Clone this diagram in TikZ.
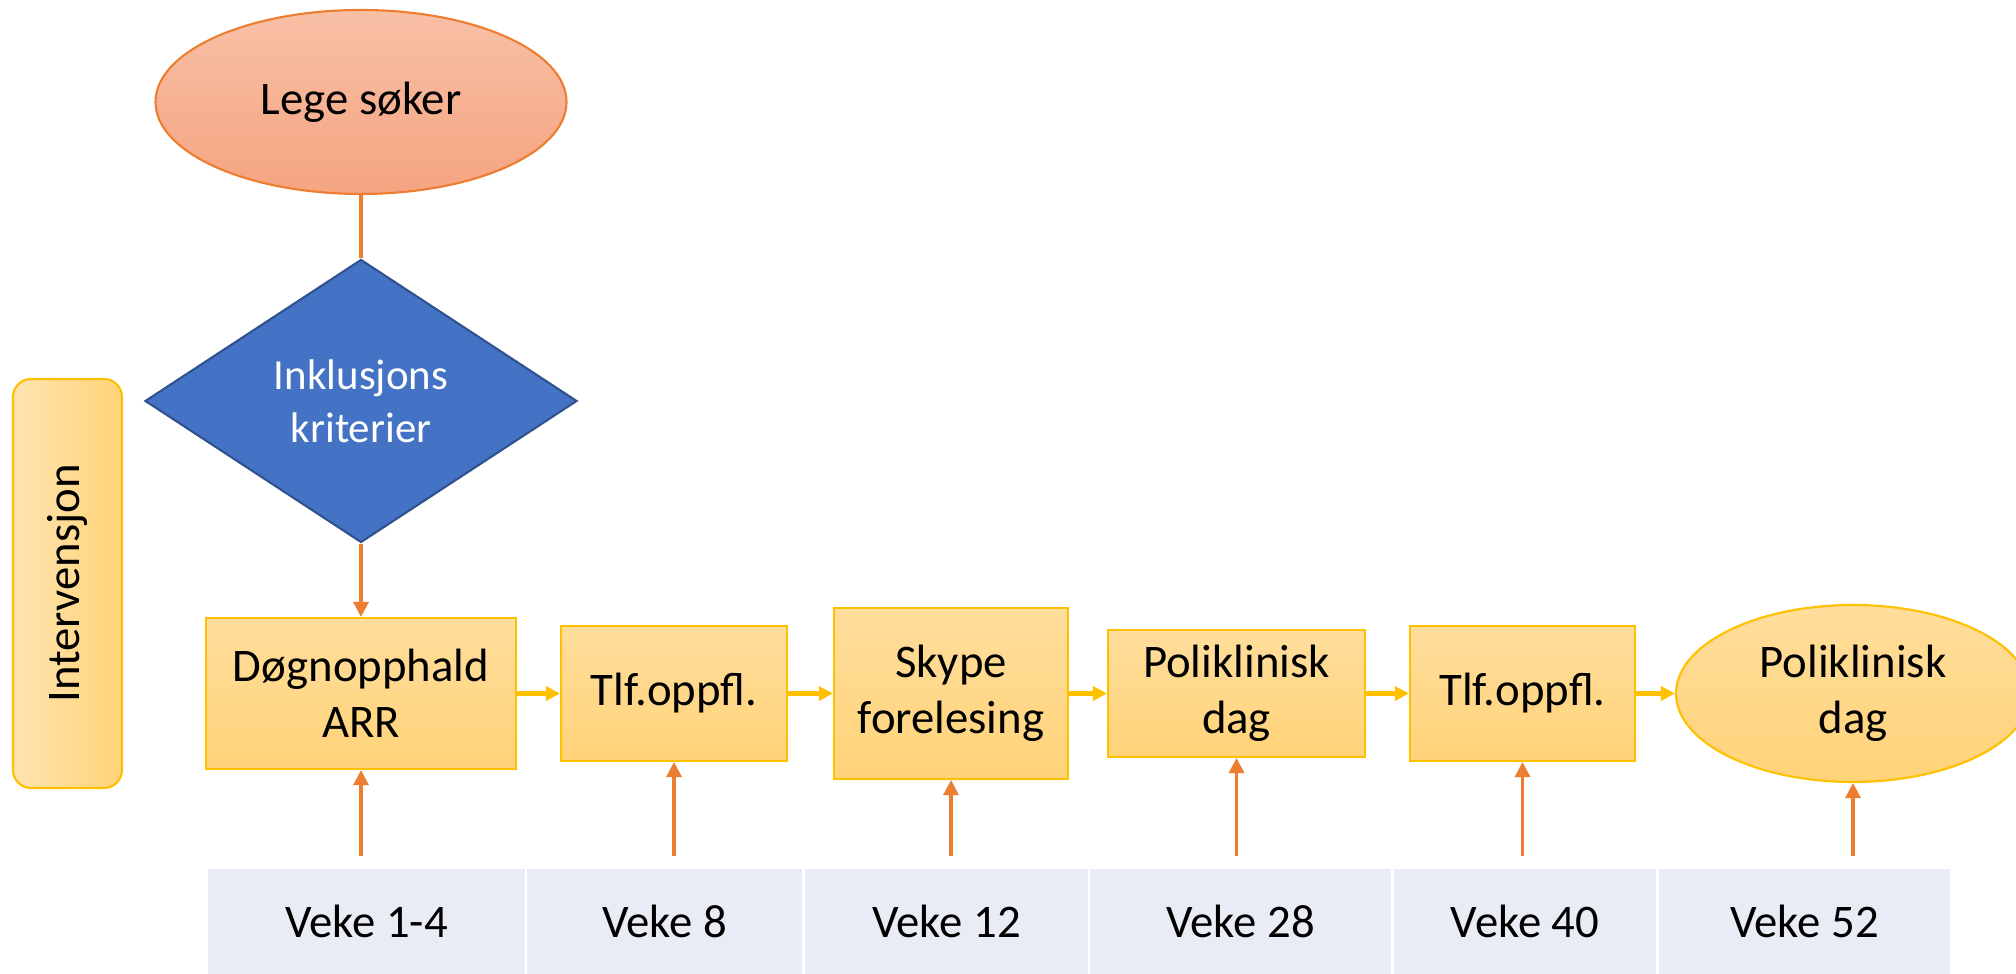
\documentclass[tikz,border=0pt]{standalone}
\usepackage{fontspec}
\setmainfont{Carlito}
\usetikzlibrary{shapes.geometric,arrows.meta}

\definecolor{oline}{RGB}{237,125,49}
\definecolor{otop}{RGB}{248,192,166}
\definecolor{obot}{RGB}{245,164,128}
\definecolor{kblue}{RGB}{68,114,196}
\definecolor{kline}{RGB}{47,82,143}
\definecolor{yline}{RGB}{255,192,0}
\definecolor{ytop}{RGB}{255,221,156}
\definecolor{ybot}{RGB}{255,211,120}
\definecolor{vfill}{RGB}{233,235,245}

\begin{document}
\begin{tikzpicture}[
    txt/.style={font=\fontsize{13.3}{16}\selectfont},
    box/.style={rectangle, txt, draw=yline, line width=0.6pt, top color=ytop, bottom color=ybot, align=center, inner sep=0pt},
    veke/.style={rectangle, txt, fill=vfill, minimum height=1.05cm, inner sep=0pt},
    uparrow/.style={draw=oline, line width=0.9pt, -{Triangle[length=0.15cm,width=0.15cm]}},
    nextarrow/.style={draw=yline, line width=1.2pt, -{Triangle[length=0.14cm,width=0.14cm]}}]

      \clip (0,0) rectangle (20.16,9.74);

      \node[ellipse, txt, draw=oline, line width=0.6pt, top color=otop, bottom color=obot,
        minimum width=4.11cm, minimum height=1.84cm] (S) at (3.61,8.72) {Lege søker};
      \node[diamond, draw=kline, line width=0.6pt, fill=kblue, text=white, align=center,
        aspect=1.5, inner sep=0pt, minimum width=4.32cm, minimum height=2.83cm,
        font=\fontsize{12.2}{15}\selectfont] (K) at (3.61,5.73) {Inklusjons\\kriterier};
      \node[rectangle, txt, rotate=90, rounded corners=0.18cm, draw=yline, line width=0.6pt,
        left color=ytop!80!white, right color=ybot, minimum width=4.09cm, minimum height=1.09cm] (I) at (0.675,3.905) {Intervensjon};

      \node[box, minimum width=3.10cm, minimum height=1.51cm] (B1) at (3.61,2.805) {Døgnopphald\\ARR};
      \node[box, minimum width=2.26cm, minimum height=1.35cm] (B2) at (6.74,2.805) {Tlf.oppfl.};
      \node[box, minimum width=2.34cm, minimum height=1.71cm] (B3) at (9.51,2.805) {Skype\\forelesing};
      \node[box, minimum width=2.57cm, minimum height=1.27cm] (B4) at (12.365,2.805) {Poliklinisk\\dag};
      \node[box, minimum width=2.25cm, minimum height=1.35cm] (B5) at (15.225,2.805) {Tlf.oppfl.};
      \node[box, ellipse, minimum width=3.54cm, minimum height=1.77cm] (B6) at (18.53,2.805) {Poliklinisk\\dag};

      \foreach \x/\w/\t [count=\i] in {3.665/3.17/{Veke 1-4}, 6.645/2.75/{Veke 8}, 9.465/2.83/{Veke 12},
          12.405/3.01/{Veke 28}, 15.25/2.62/{Veke 40}, 18.045/2.91/{Veke 52}} {
        \node[veke, minimum width=\w cm] (V\i) at (\x,0.525) {\t};
      }

      \draw[oline, line width=0.9pt] (S) -- (K);
      \draw[uparrow] (K) -- (B1);

      \draw[nextarrow] (B1) -- (B2);
      \draw[nextarrow] (B2) -- (B3);
      \draw[nextarrow] (B3) -- (B4);
      \draw[nextarrow] (B4) -- (B5);
      \draw[nextarrow] (B5) -- (B6);

      \foreach \i in {1,...,6} {
        \draw[uparrow, shorten <=0.12cm] (B\i |- V\i.north) -- (B\i);
      }
    \end{tikzpicture}
\end{document}
